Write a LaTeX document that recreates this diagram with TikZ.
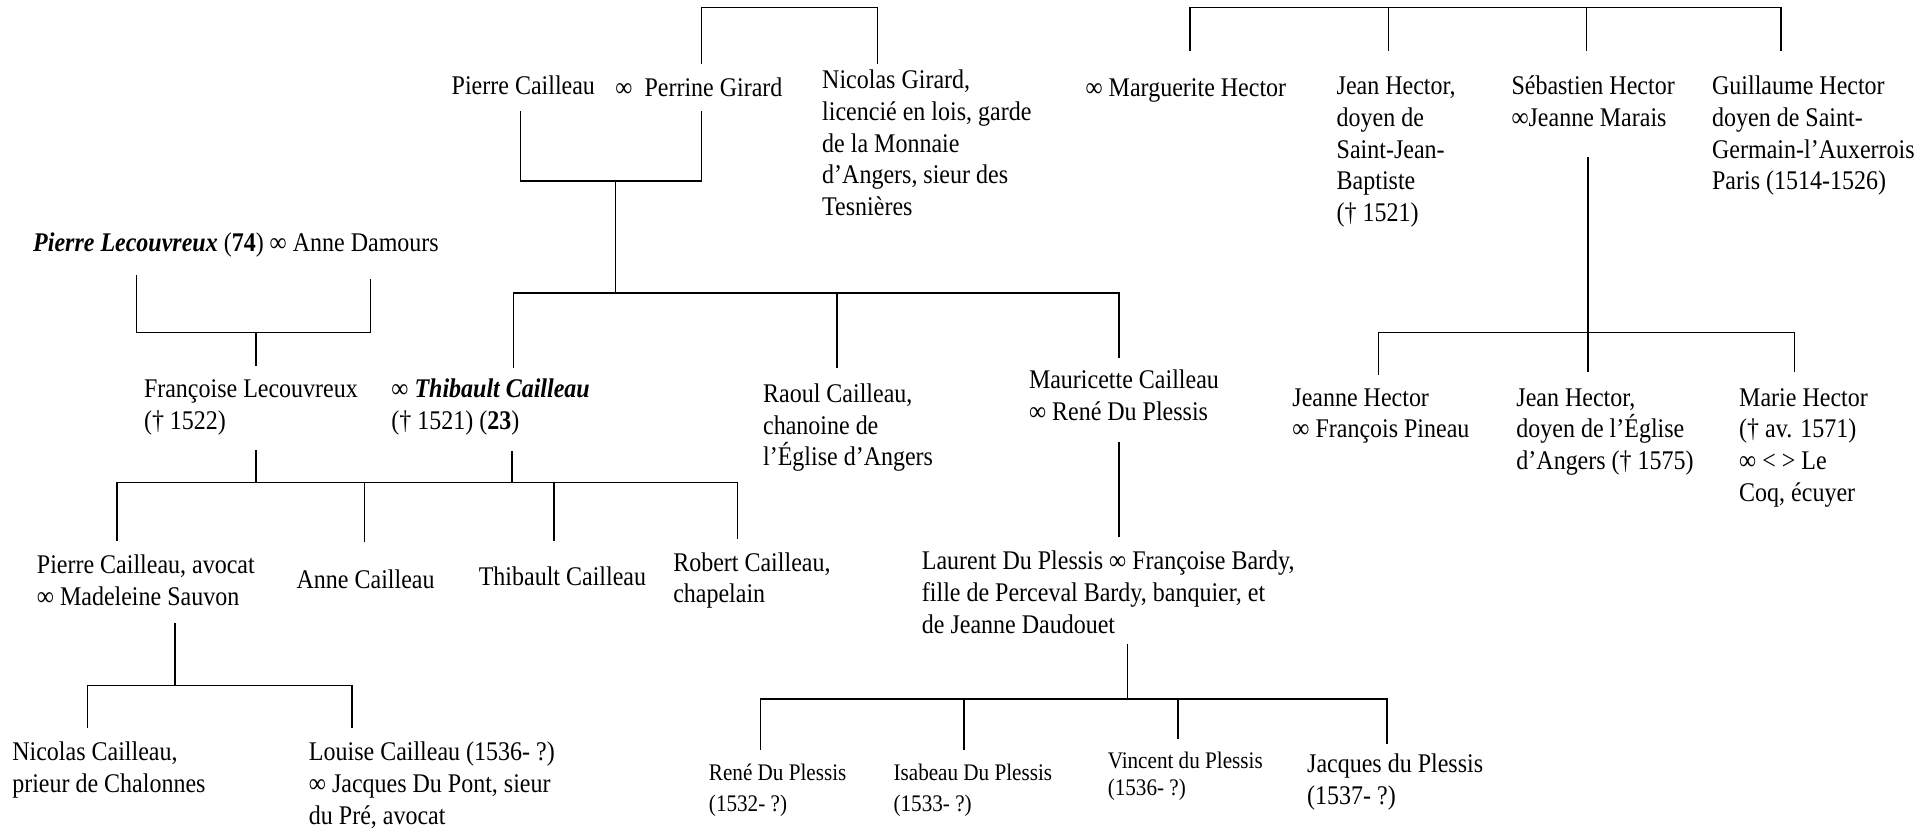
\documentclass[tikz,border=0pt]{standalone}
\usepackage{fontspec}
\setmainfont{Liberation Serif}[FakeStretch=0.89]
\begin{document}
\begin{tikzpicture}[x=1pt,y=-1pt,
  person/.style={inner sep=0pt, outer sep=0pt, anchor=base west, align=left, font=\fontsize{21.9}{25.75}\selectfont},
  small/.style={font=\fontsize{19.3}{25}\selectfont},
  link/.style={line width=1.25pt, line cap=rect}]
\useasboundingbox (0,0) rectangle (1568,676);

% ---------- people (positions are the baseline of the LAST line) ----------
\node[person] (pc)  at (367,77)  {Pierre Cailleau};
\node[person] (pg)  at (500,78)  {∞\ \ Perrine Girard};
\node[person] (ng)  at (668,175) {Nicolas Girard,\\licencié en lois, garde\\de la Monnaie\\d’Angers, sieur des\\Tesnières};
\node[person] (mh)  at (882,78)  {∞ Marguerite Hector};
\node[person] (jh)  at (1086,180) {Jean Hector,\\doyen de\\Saint-Jean-\\Baptiste\\(† 1521)};
\node[person] (sh)  at (1228,102.75) {Sébastien Hector\\∞Jeanne Marais};
\node[person] (gh)  at (1391,154.25) {Guillaume Hector\\doyen de Saint-\\Germain-l’Auxerrois\\Paris (1514-1526)};

\node[person] (pl)  at (27,204)  {\textbf{\textit{Pierre Lecouvreux}} (\textbf{74}) ∞ Anne Damours};

\node[person] (fl)  at (117,348.75) {Françoise Lecouvreux\\(† 1522)};
\node[person] (tc)  at (318,348.75) {∞ \textbf{\textit{Thibault Cailleau}}\\(† 1521) (\textbf{23})};
\node[person] (rc)  at (620,378.5) {Raoul Cailleau,\\chanoine de\\l’Église d’Angers};
\node[person] (mc)  at (836,341.75) {Mauricette Cailleau\\∞ René Du Plessis};
\node[person] (jeh) at (1050,355.75) {Jeanne Hector\\∞ François Pineau};
\node[person] (jh2) at (1232,381.5) {Jean Hector,\\doyen de l’Église\\d’Angers († 1575)};
\node[person] (mah) at (1413,407.25) {Marie Hector\\(† av. 1571)\\∞ < > Le\\Coq, écuyer};

\node[person] (pca) at (30,491.75) {Pierre Cailleau, avocat\\∞ Madeleine Sauvon};
\node[person] (ac)  at (241,478) {Anne Cailleau};
\node[person] (tc2) at (389,476) {Thibault Cailleau};
\node[person] (rob) at (547,489.75) {Robert Cailleau,\\chapelain};
\node[person] (ldp) at (749,514.5) {Laurent Du Plessis ∞ Françoise Bardy,\\fille de Perceval Bardy, banquier, et\\de Jeanne Daudouet};

\node[person] (nc)  at (10,643.75) {Nicolas Cailleau,\\prieur de Chalonnes};
\node[person] (lc)  at (251,669.5) {Louise Cailleau (1536- ?)\\∞ Jacques Du Pont, sieur\\du Pré, avocat};
\node[person,small] (rdp) at (576,659) {René Du Plessis\\(1532- ?)};
\node[person,small] (idp) at (726,659) {Isabeau Du Plessis\\(1533- ?)};
\node[person,small,font=\fontsize{19.3}{22}\selectfont] (vdp) at (900,646) {Vincent du Plessis\\(1536- ?)};
\node[person] (jdp) at (1062,653.75) {Jacques du Plessis\\(1537- ?)};

% ---------- junction coordinates ----------
% Girard parents bracket
\coordinate (gA) at (570,51);  \coordinate (gAt) at (570,6);
\coordinate (gB) at (713,51);  \coordinate (gBt) at (713,6);
% Hector parents bracket
\coordinate (hA) at (967,41);  \coordinate (hAt) at (967,6);
\coordinate (hB) at (1128,41); \coordinate (hBt) at (1128,6);
\coordinate (hC) at (1289,41); \coordinate (hCt) at (1289,6);
\coordinate (hD) at (1447,41); \coordinate (hDt) at (1447,6);
% Pierre Cailleau x Perrine Girard
\coordinate (ppA) at (423,91);  \coordinate (ppAb) at (423,147);
\coordinate (ppB) at (570,91);  \coordinate (ppBb) at (570,147);
\coordinate (ppM) at (500,147); \coordinate (ppJ) at (500,238);
\coordinate (kL) at (417,238);  \coordinate (kLb) at (417,298);
\coordinate (kM) at (680,238);  \coordinate (kMb) at (680,298);
\coordinate (kR) at (909,238);  \coordinate (kRb) at (909,290);
% Lecouvreux
\coordinate (lA) at (111,224);  \coordinate (lAb) at (111,270);
\coordinate (lB) at (301,227);  \coordinate (lBb) at (301,270);
\coordinate (lM) at (208,270);  \coordinate (lMb) at (208,297);
% Francoise x Thibault children
\coordinate (ftA) at (208,366); \coordinate (ftAb) at (208,392);
\coordinate (ftB) at (416,367); \coordinate (ftBb) at (416,392);
\coordinate (c1) at (95,392);   \coordinate (c1b) at (95,439);
\coordinate (c2) at (296,392);  \coordinate (c2b) at (296,440);
\coordinate (c3) at (450,392);  \coordinate (c3b) at (450,439);
\coordinate (c4) at (599,392);  \coordinate (c4b) at (599,437);
% Mauricette -> Laurent
\coordinate (mA) at (909,360);  \coordinate (mAb) at (909,436);
% Pierre avocat children
\coordinate (paA) at (142,507); \coordinate (paM) at (142,557);
\coordinate (pa1) at (71,557);  \coordinate (pa1b) at (71,591);
\coordinate (pa2) at (286,557); \coordinate (pa2b) at (286,591);
% Laurent children
\coordinate (lpA) at (916,524); \coordinate (lpM) at (916,568);
\coordinate (d1) at (618,568);  \coordinate (d1b) at (618,609);
\coordinate (d2) at (783,568);  \coordinate (d2b) at (783,609);
\coordinate (d3) at (957,568);  \coordinate (d3b) at (957,600);
\coordinate (d4) at (1127,568); \coordinate (d4b) at (1127,604);
% Sebastien Hector children
\coordinate (shA) at (1290,128); \coordinate (shM) at (1290,270);
\coordinate (e1) at (1120,270);  \coordinate (e1b) at (1120,304);
\coordinate (e3) at (1458,270);  \coordinate (e3b) at (1458,302);
\coordinate (e2b) at (1290,302);

% ---------- connectors ----------
\draw[link] (gA) -- (gAt) -- (gBt) -- (gB);
\draw[link] (hA) -- (hAt) -- (hDt) -- (hD);
\draw[link] (hBt) -- (hB);
\draw[link] (hCt) -- (hC);

\draw[link] (ppA) -- (ppAb) -- (ppBb) -- (ppB);
\draw[link] (ppM) -- (ppJ);
\draw[link] (kLb) -- (kL) -- (kR) -- (kRb);
\draw[link] (kM) -- (kMb);

\draw[link] (lA) -- (lAb) -- (lBb) -- (lB);
\draw[link] (lM) -- (lMb);

\draw[link] (ftA) -- (ftAb);
\draw[link] (ftB) -- (ftBb);
\draw[link] (c1b) -- (c1) -- (c4) -- (c4b);
\draw[link] (c2) -- (c2b);
\draw[link] (c3) -- (c3b);

\draw[link] (mA) -- (mAb);

\draw[link] (paA) -- (paM);
\draw[link] (pa1b) -- (pa1) -- (pa2) -- (pa2b);

\draw[link] (lpA) -- (lpM);
\draw[link] (d1b) -- (d1) -- (d4) -- (d4b);
\draw[link] (d2) -- (d2b);
\draw[link] (d3) -- (d3b);

\draw[link] (shA) -- (shM) -- (e2b);
\draw[link] (e1b) -- (e1) -- (e3) -- (e3b);
\end{tikzpicture}
\end{document}
